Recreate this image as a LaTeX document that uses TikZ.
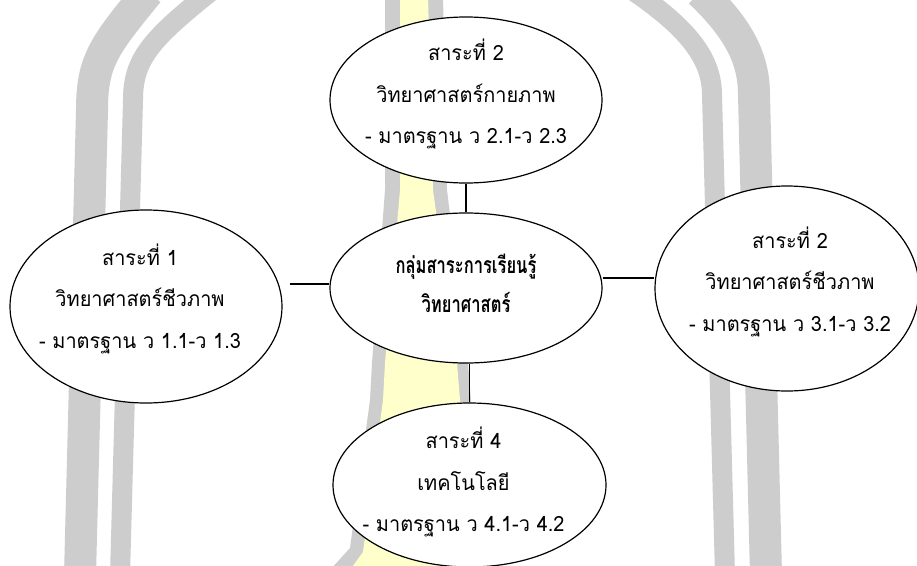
\documentclass[tikz,border=0pt]{standalone}
\usepackage{fontspec}
\newfontfamily\thaifont[Script=Thai,FakeStretch=0.95]{Loma}
\newfontfamily\hubfont[Script=Thai,FakeStretch=0.72]{Loma}
\usetikzlibrary{shapes.geometric}
\definecolor{wmgray}{RGB}{205,205,205}
\definecolor{wmyellow}{RGB}{255,255,204}
\begin{document}
\begin{tikzpicture}[x=1pt,y=-1pt,
  bubble/.style={ellipse,draw=black,line width=1.2pt,fill=white,inner sep=0pt},
  txt/.style={inner sep=0pt,align=center,font=\thaifont\fontsize{21}{41.5}\selectfont},
  hubtxt/.style={txt,font=\hubfont\bfseries\fontsize{23}{39}\selectfont},
  link/.style={line width=1.2pt,draw=black},
  band/.style={draw=wmgray}]
\useasboundingbox (0,0) rectangle (917,565);
\fill[white] (0,0) rectangle (917,565);
% watermark
\draw[band,line width=32pt] (148,-8) .. controls (105,45) and (92,60) .. (92,110) -- (80,575);
\draw[band,line width=20pt] (210,-8) .. controls (150,40) and (133,60) .. (133,100) -- (120,575);
\draw[band,line width=20pt] (635,-8) .. controls (690,30) and (712,60) .. (712,95) -- (725,575);
\draw[band,line width=32pt] (700,-8) .. controls (740,30) and (754,60) .. (754,95) -- (766,575);
\fill[wmgray] (385,-5) -- (443,-5) -- (447,190) -- (468,363) -- (471,400) -- (482,570)
  -- (330,570) -- (350,548) -- (370,400) -- (372,363) -- (385,190) -- cycle;
\fill[wmyellow] (400,-5) -- (428,-5) -- (433,190) -- (457,363) -- (460,400) -- (468,570)
  -- (350,570) -- (363,552) -- (383,400) -- (385,363) -- (400,190) -- cycle;
% bubbles
\node[bubble,minimum width=272pt,minimum height=166pt] (top) at (466,100) {};
\node[bubble,minimum width=272pt,minimum height=150pt] (cen) at (466,288) {};
\node[bubble,minimum width=272pt,minimum height=193pt] (lft) at (146,306.5) {};
\node[bubble,minimum width=264pt,minimum height=205pt] (rgt) at (787,288.5) {};
\node[bubble,minimum width=273pt,minimum height=164pt] (bot) at (469.5,485) {};
% texts
\node[txt] (topt) at ([yshift=6pt]top.center) {สาระที่ 2\\วิทยาศาสตร์กายภาพ\\- มาตรฐาน ว 2.1-ว 2.3};
\node[hubtxt] (cent) at ([yshift=5pt]cen.center) {กลุ่มสาระการเรียนรู้\\วิทยาศาสตร์};
\node[txt] (lftt) at ([xshift=-6pt,yshift=8pt]lft.center) {สาระที่ 1\\วิทยาศาสตร์ชีวภาพ\\- มาตรฐาน ว 1.1-ว 1.3};
\node[txt] (rgtt) at ([xshift=3pt,yshift=7pt]rgt.center) {สาระที่ 2\\วิทยาศาสตร์ชีวภาพ\\- มาตรฐาน ว 3.1-ว 3.2};
\node[txt] (bott) at ([xshift=-6pt,yshift=3pt]bot.center) {สาระที่ 4\\เทคโนโลยี\\- มาตรฐาน ว 4.1-ว 4.2};
% connectors
\draw[link] (top.south) -- (cen.north);
\draw[link] (bot.north) -- (bot.north |- cen.south);
\draw[link,shorten <=7pt] ([yshift=4pt]cen.west -| lft.east) -- ([yshift=4pt]cen.west);
\draw[link] ([yshift=10pt]cen.east) -- ([yshift=10pt]cen.east -| rgt.west);
\end{tikzpicture}
\end{document}
